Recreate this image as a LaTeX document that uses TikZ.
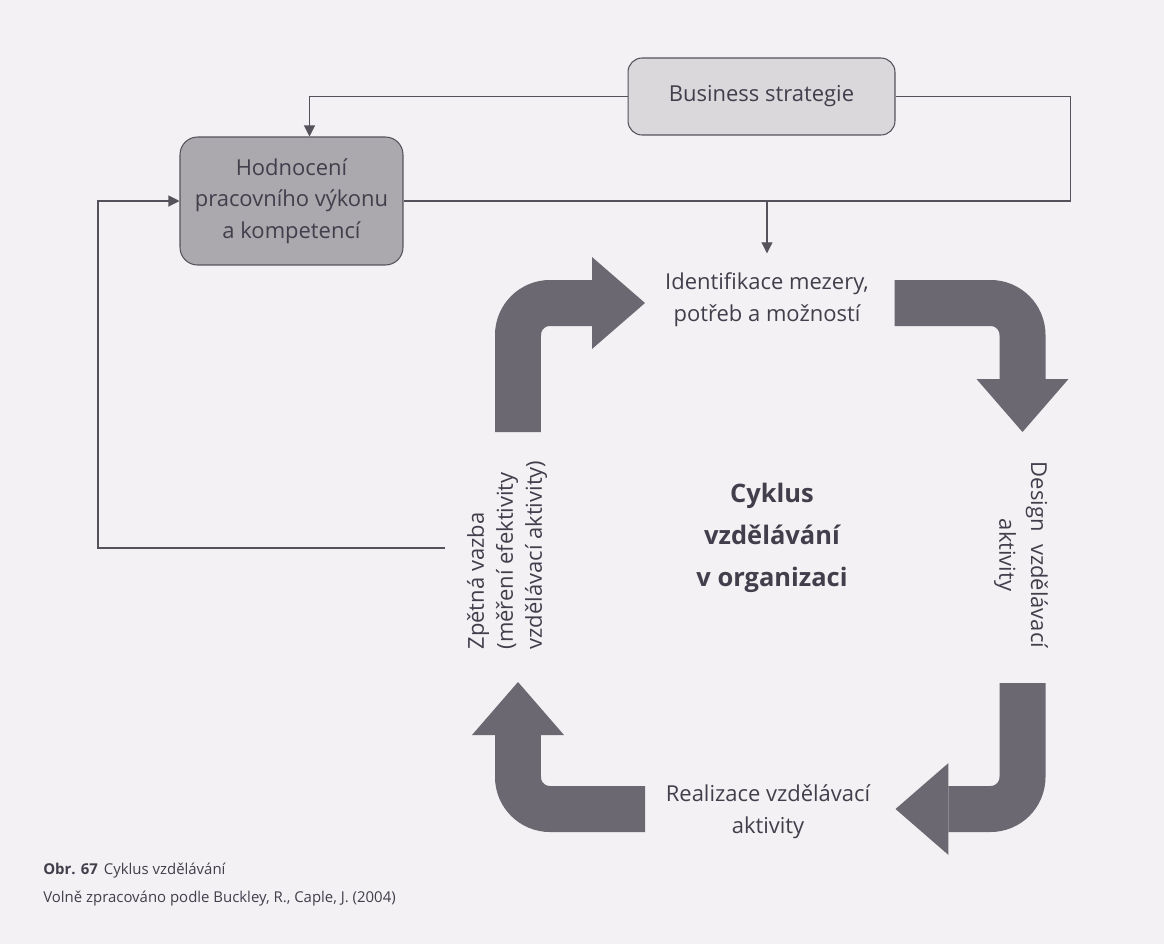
\documentclass[tikz,border=0pt]{standalone}
\usepackage{fontspec}
\setmainfont{Open Sans}
\usetikzlibrary{arrows.meta,positioning,calc}
\definecolor{cypaper}{HTML}{F3F1F3}
\definecolor{cyink}{HTML}{433E4C}
\definecolor{cydark}{HTML}{6C6872}
\definecolor{cymid}{HTML}{ABA9AE}
\definecolor{cylight}{HTML}{DAD8DB}
\definecolor{cyline}{HTML}{56525C}
\tikzset{
  link/.style={-{Triangle[length=2.2mm,width=2.2mm]}, line width=0.6pt, draw=cyline},
  plainlink/.style={line width=0.6pt, draw=cyline},
  bigarrow/.style={line width=0.92cm, draw=cydark, rounded corners=0.64cm,
    -{Triangle[length=1.06cm,width=1.84cm,line width=0pt]}},
  stagetext/.style={align=center, text=cyink, inner sep=2pt,
    font=\fontsize{12.5}{18}\selectfont},
  stratbox/.style={draw=cyline, line width=0.6pt, rounded corners=8pt, fill=cylight,
    minimum width=5.34cm, minimum height=1.54cm, stagetext},
  hodnbox/.style={draw=cyline, line width=0.6pt, rounded corners=10pt, fill=cymid,
    minimum width=4.46cm, minimum height=2.56cm, stagetext},
  titletext/.style={align=center, text=cyink, font=\fontsize{14.5}{24}\selectfont\bfseries},
  capttext/.style={align=left, text=cyink, inner sep=0pt, font=\fontsize{8.5}{15.5}\selectfont}
}

\begin{document}
\begin{tikzpicture}[x=0.02cm, y=-0.02cm]
  \fill[cypaper] (0,0) rectangle (1164,944);
  \useasboundingbox (0,0) rectangle (1164,944);

  % boxes
  \node[stratbox] (bizstrat) at (761.5,96.5) {Business strategie};
  \node[hodnbox] (hodnoceni) at (291.5,201) {Hodnocení\\pracovního výkonu\\a kompetencí};

  % stages of the cycle
  \node[stagetext] (identif) at (767,300) {Identifikace mezery,\\potřeb a možností};
  \node[stagetext, rotate=-90] (design) at (1021,555) {Design\hspace{0.3em} vzdělávací\\aktivity};
  \node[stagetext] (realiz) at (768,812) {Realizace vzdělávací\\aktivity};
  \node[stagetext, rotate=90, align=left, font=\fontsize{12.5}{16.5}\selectfont] (zpetna) at (507,555)
    {Zpětná vazba\\(měření efektivity\\vzdělávací aktivity)};
  \node[titletext] (cyklus) at (772,538) {Cyklus\\vzdělávání\\v organizaci};

  % corners of the cycle
  \coordinate (cnw) at (518,303);
  \coordinate (cne) at (1022.5,303);
  \coordinate (cse) at (1022.5,809);
  \coordinate (csw) at (518,809);

  \draw[bigarrow] ($(cnw)+(0,129)$) -- (cnw) -- ($(cnw)+(127,0)$);
  \draw[bigarrow] ($(cne)+(-128,0)$) -- (cne) -- ($(cne)+(0,129)$);
  \draw[bigarrow] ($(cse)+(0,-126)$) -- (cse) -- ($(cse)+(-127,0)$);
  \draw[bigarrow] ($(csw)+(127,0)$) -- (csw) -- ($(csw)+(0,-127)$);

  % thin connectors
  \draw[link] (bizstrat.west) -| ($(hodnoceni.north)+(18,0)$);
  \draw[plainlink] (bizstrat.east) -- ++(175,0) |- (hodnoceni.east);
  \coordinate (split) at (identif.north |- hodnoceni.east);
  \draw[link] (split) -- ($(identif.north)+(0,-16)$);
  \coordinate (fbend) at (445,548);
  \draw[link] (fbend) -- ++(-347,0) |- (hodnoceni.west);

  % caption
  \node[capttext, anchor=north west] (caption) at (43,863)
    {\textbf{Obr. 67}\hspace{0.4em}Cyklus vzdělávání\\Volně zpracováno podle Buckley, R., Caple, J. (2004)};
\end{tikzpicture}
\end{document}
